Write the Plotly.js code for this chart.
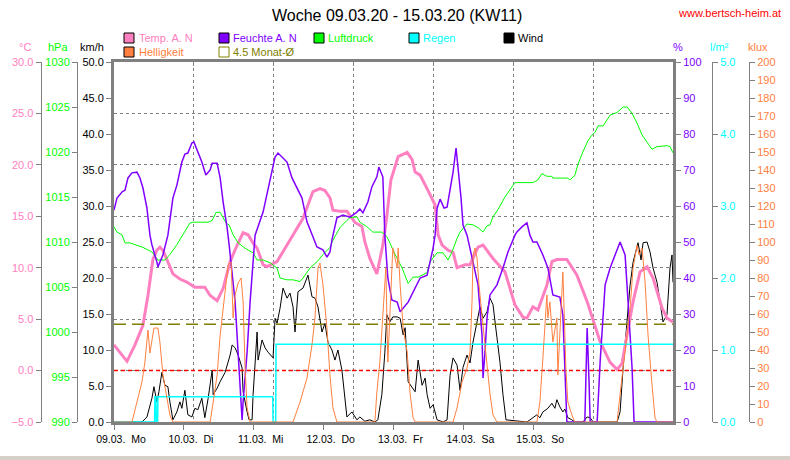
<!DOCTYPE html>
<html><head><meta charset="utf-8">
<script src="https://cdn.plot.ly/plotly-3.0.1.min.js"></script>
<style>html,body{margin:0;padding:0;background:#fff}#chart{width:790px;height:460px}</style>
</head><body><div id="chart"></div>
<script>
// ---- data (hours since 09.03.20 00:00) ----
const dayLabels = ['09.03.\u00a0 Mo','10.03.\u00a0 Di','11.03.\u00a0 Mi','12.03.\u00a0 Do','13.03.\u00a0 Fr','14.03.\u00a0 Sa','15.03.\u00a0 So'];
const dayTicks = [0,1,2,3,4,5,6];

const tempH = [0,1.8,3.9,6.3,8.7,10.2,11.7,12.9,13.8,14.7,16.2,17.7,19.8,21.9,24.3,27.3,28.9,31.0,32.8,34.9,37.0,38.8,40.3,41.8,43.0,44.8,46.0,49.0,52.0,53.8,56.8,59.8,61.9,63.4,64.9,65.8,67.9,70.0,72.4,74.5,75.4,76.9,79.0,80.8,82.0,83.2,85.4,88.1,89.6,90.5,92.0,95.0,96.5,97.4,98.6,100.4,101.9,103.1,105.5,107.0,109.4,110.9,113.9,117.5,120.5,122.9,124.1,125.9,127.4,130.1,131.6,133.1,136.1,139.1,142.2,146.1,149.1,151.2,152.7,154.2,156.0,158.1,160.2,162.0,164.7,166.2,168.0];
const tempC = [2.5,1.8,0.9,2.5,4.4,7.3,10.8,11.7,12.0,11.7,10.5,9.4,8.9,8.6,8.1,8.1,7.3,6.8,8.0,10.6,12.2,13.4,13.2,12.4,11.9,10.3,10.1,10.6,12.2,13.2,14.8,17.4,17.7,17.5,16.8,15.6,15.5,15.5,14.4,14.0,12.5,10.9,9.4,12.2,15.0,18.5,20.8,21.2,20.5,19.3,19.0,17.1,16.1,13.2,12.2,11.7,11.5,10.0,10.3,10.3,12.0,12.2,10.9,9.6,6.4,5.2,5.1,6.2,5.9,8.3,10.6,10.8,10.8,9.3,6.7,2.8,0.8,0.1,0.7,3.5,6.7,9.6,10.1,9.0,6.1,5.1,4.7];

const feuchteH = [0,0.9,2.4,3.3,4.2,5.4,6.9,7.8,8.7,9.9,10.8,11.4,12.9,13.2,14.7,16.2,17.7,18.9,20.4,21.3,22.2,23.4,24.0,25.2,26.4,27.6,28.9,29.5,31.0,31.9,32.8,34.0,34.6,36.4,37.9,38.5,38.8,40.0,40.9,41.8,42.4,44.8,46.9,48.4,49.3,50.8,52.0,53.5,56.5,58.0,59.5,61.0,62.8,64.0,64.9,65.5,67.0,68.8,70.9,73.0,73.9,74.8,76.3,77.5,79.0,79.6,80.8,81.1,81.4,82.3,83.5,85.1,86.0,88.4,92.0,94.1,95.9,96.5,97.1,98.0,99.2,100.1,101.0,101.9,102.8,103.4,104.3,104.9,106.1,107.9,109.4,110.6,110.9,111.5,112.1,113.0,115.1,116.9,118.4,120.5,121.1,122.6,124.1,125.0,125.9,127.1,128.9,130.4,131.9,134.0,134.9,135.5,136.1,141.5,142.2,142.8,143.1,145.2,146.1,147.6,149.1,152.1,153.6,154.5,155.7,156.3,168.0];
const feuchteP = [58.9,62.2,63.9,64.4,67.8,69.2,69.4,67.8,65.0,59.4,51.9,49.2,44.4,43.1,46.4,51.9,62.2,65.8,72.2,74.4,74.7,77.5,77.8,75.0,72.2,68.6,70.0,71.9,71.9,67.8,61.1,53.9,49.2,33.3,10.3,0.6,5.6,19.4,33.3,46.4,51.9,58.3,66.7,73.6,74.7,73.3,72.2,67.8,62.2,55.6,51.9,48.6,47.8,45.8,47.2,50.6,56.7,57.5,56.9,58.3,59.2,58.1,61.1,65.3,68.1,70.8,68.1,62.2,51.9,40.0,33.9,33.3,30.6,33.3,40.0,40.8,48.3,51.9,59.4,61.9,59.4,59.7,65.0,69.4,76.1,70.6,62.2,54.7,51.9,44.4,38.1,24.2,12.2,19.4,28.9,35.3,38.1,42.8,47.2,51.9,52.8,54.2,55.3,51.9,50.0,50.0,46.4,42.8,35.3,34.7,29.7,15.0,0,0,26.1,10.3,0,0,16.7,38.1,42.8,50.0,46.4,33.3,15.0,0,0];

const druckH = [0,0.9,2.4,3.3,4.8,8.7,11.4,13.2,15.3,16.8,18.9,20.4,22.8,23.7,28.3,29.5,30.7,31.9,32.8,33.7,34.6,35.8,37.3,39.4,41.8,43.0,44.8,46.9,49.0,49.9,52.0,53.8,55.9,56.8,58.9,61.0,62.8,64.9,65.8,67.9,70.0,70.9,73.0,73.9,76.0,77.8,80.5,82.0,82.9,84.5,86.6,88.4,89.9,91.4,94.1,95.0,97.1,98.9,100.4,101.6,103.1,104.0,106.1,107.9,109.4,110.9,112.1,113.0,113.9,115.4,117.5,119.6,120.5,125.9,127.4,128.6,130.1,131.6,131.9,136.4,137.0,138.5,139.4,140.9,142.5,143.7,144.6,145.5,147.0,149.1,151.2,153.0,154.2,155.7,157.2,158.7,160.2,161.7,163.2,166.2,167.1,168.0];
const druckHpa = [1011.7,1011.1,1010.8,1009.9,1009.9,1009.4,1008.9,1008.0,1008.0,1008.6,1009.7,1010.6,1012.1,1012.2,1012.2,1012.4,1013.3,1013.3,1012.7,1012.1,1011.9,1010.8,1009.9,1009.3,1008.8,1008.0,1008.0,1007.7,1007.1,1006.0,1005.8,1005.8,1005.6,1006.0,1007.1,1007.8,1008.6,1009.4,1010.2,1011.6,1012.4,1012.7,1012.8,1012.2,1011.7,1011.1,1011.1,1010.6,1009.9,1008.6,1007.1,1005.4,1006.1,1006.1,1006.6,1007.8,1008.8,1008.8,1008.0,1008.9,1010.4,1011.1,1012.0,1011.9,1011.6,1011.1,1011.8,1011.9,1012.8,1013.6,1015.0,1016.1,1016.6,1016.6,1016.9,1017.6,1017.3,1017.3,1017.1,1017.1,1016.9,1017.4,1018.6,1020.0,1021.3,1021.9,1022.2,1022.9,1022.9,1024.1,1024.4,1025.0,1025.0,1024.3,1023.2,1021.9,1021.1,1020.3,1020.6,1020.7,1020.6,1019.9];

const windH = [0,8.4,9.9,11.4,12.0,12.9,13.5,14.4,15.3,16.2,16.8,17.7,18.9,19.8,20.4,21.3,22.2,23.4,24.3,25.2,26.4,27.3,28.3,29.5,29.8,31.0,31.9,33.4,34.9,35.5,36.4,37.3,38.5,38.8,40.0,40.6,41.5,41.8,43.0,43.3,44.5,45.4,46.3,47.8,48.4,49.0,49.9,50.8,52.0,52.9,53.8,54.4,55.3,56.8,58.3,59.5,60.4,61.3,62.5,63.4,64.3,65.5,66.4,67.3,68.5,69.4,70.0,71.5,73.0,73.9,75.4,76.9,78.4,79.3,80.5,81.4,82.0,82.9,83.8,85.1,86.0,86.9,87.5,88.4,89.6,90.5,91.4,92.6,93.5,94.1,95.0,95.9,97.1,98.9,100.1,101.0,101.9,103.1,104.0,104.9,106.1,107.0,107.9,109.1,110.0,110.9,112.1,113.0,113.9,115.1,116.0,116.9,117.8,124.1,125.0,127.1,128.0,128.9,130.4,131.6,132.5,133.1,134.0,134.9,135.5,136.4,137.6,138.5,140.9,142.2,143.1,144.0,151.2,152.1,153.0,154.2,155.1,156.0,157.5,158.4,159.0,160.2,161.1,162.0,163.2,164.1,165.0,166.2,167.1,167.7,168.0];
const windKmh = [0,0,0.7,3.3,4.9,2.8,4.2,6.9,5.1,4.9,2.8,0.3,1.4,2.8,1.9,4.4,1.0,0.7,1.9,1.7,3.3,0.6,3.3,7.2,3.8,4.7,5.6,6.9,9.3,10.7,10.3,9.3,7.5,4.2,1.4,0.3,0.3,3.8,12.5,8.6,11.4,10.3,9.7,8.9,14.4,13.7,15.8,18.6,17.2,17.9,16.0,12.5,18.1,18.6,20.4,17.4,17.2,16.0,12.5,13.7,11.1,10.0,8.6,10.0,7.2,2.8,0.7,1.4,0.3,0.7,0.1,0.3,0,0.3,3.8,9.7,14.9,13.9,14.6,14.6,14.4,12.1,13.1,5.6,4.7,4.2,8.6,5.1,6.1,3.8,1.9,2.4,0.3,0,0.3,6.5,8.9,7.9,4.4,7.6,9.3,8.2,11.1,13.9,16.0,14.4,15.3,17.2,16.3,11.7,8.3,3.8,0.3,0,0.3,1.0,0.6,1.4,1.9,2.6,1.9,3.1,2.1,1.4,1.8,0.6,0.3,0,0,0.7,0.6,0,0,1.4,7.5,14.4,19.0,22.2,24.9,22.5,24.9,25.0,23.6,21.4,19.4,16.7,13.9,14.9,21.4,23.2,19.4];

const hellH = [0,5.4,6.9,8.4,9.3,10.2,10.8,11.4,12.0,13.2,13.8,14.7,15.9,16.8,17.7,28.9,29.8,31.0,31.9,33.4,34.3,35.2,35.8,36.4,37.3,38.2,38.8,39.4,40.0,40.9,53.8,55.9,58.0,59.5,60.4,61.3,61.9,62.8,64.0,64.9,65.8,67.0,78.4,79.0,79.9,80.8,81.7,82.3,82.9,83.8,85.1,85.4,86.0,86.9,88.1,89.0,89.9,90.5,101.9,103.1,104.6,106.1,107.0,107.6,107.9,108.5,109.1,109.7,110.6,111.2,112.1,113.0,113.9,115.1,127.1,128.0,128.9,129.5,130.1,130.4,131.0,131.9,133.1,133.4,134.0,134.9,135.2,135.8,136.4,137.6,138.5,151.2,152.1,153.0,154.2,155.1,156.0,157.2,157.8,158.7,159.6,160.5,161.7,162.6,163.2,168.0];
const hellKlux = [0,0,11.1,22.2,33.3,51.1,38.3,44.4,52.2,52.2,44.4,26.1,13.3,3.9,0,0,11.1,26.1,48.3,70.6,87.2,88.9,57.8,70.6,77.2,80.0,66.7,30.0,7.8,0,0,11.1,24.4,42.8,57.8,85.6,88.3,76.1,52.2,26.1,7.8,0,0,16.7,33.3,59.4,85.6,33.3,61.1,96.7,85.6,96.7,76.1,52.2,38.9,15.6,2.2,0,0,7.8,22.2,30.0,38.9,66.7,92.8,96.7,91.1,76.1,59.4,48.3,33.3,15.6,3.9,0,0,11.1,35.6,55.6,70.6,57.8,66.7,44.4,57.8,26.1,48.3,83.3,66.7,30.0,11.1,3.9,0,0,15.6,30.0,48.3,63.3,85.6,98.3,92.8,96.7,77.8,48.3,20.6,2.2,0,0];

const regenH  = [0,12.2,12.3,12.6,12.7,13.1,13.2,47.7,47.8,48.6,48.7,168.0];
const regenMm = [0,0,0.35,0.35,0,0,0.35,0.35,0,0,1.08,1.08];

const monatMittelC = 4.5;   // 4.5 Monat-Ø (°C)
const frostC = 0;            // 0 °C line
const rangeH = [0,168];

// ---- colours ----
const cTemp='#ff80c0', cFeu='#8000ff', cDruck='#00ff00', cRegen='#00ffff', cWind='#000000', cHell='#ff8040', cMon='#808000', cGrid='#808080';

const PX = X => X/790;
const PY = Y => (422-Y)/360;

const traces = [
  {x:hellH, y:hellKlux, yaxis:'y6', type:'scatter', mode:'lines', line:{color:cHell,width:1}},
  {x:regenH, y:regenMm, yaxis:'y5', type:'scatter', mode:'lines', line:{color:cRegen,width:1.5}},
  {x:windH, y:windKmh, yaxis:'y', type:'scatter', mode:'lines', line:{color:cWind,width:1}},
  {x:druckH, y:druckHpa, yaxis:'y3', type:'scatter', mode:'lines', line:{color:cDruck,width:1}},
  {x:feuchteH, y:feuchteP, yaxis:'y4', type:'scatter', mode:'lines', line:{color:cFeu,width:1.5}},
  {x:tempH, y:tempC, yaxis:'y2', type:'scatter', mode:'lines', line:{color:cTemp,width:3}},
  {x:rangeH, y:[monatMittelC,monatMittelC], yaxis:'y2', type:'scatter', mode:'lines', line:{color:cMon,width:1.5,dash:'12px,6px'}},
  {x:rangeH, y:[frostC,frostC], yaxis:'y2', type:'scatter', mode:'lines', line:{color:'#ff0000',width:1.5,dash:'4px,3px'}},
  {x:[], y:[], xaxis:'x2', yaxis:'y', type:'scatter', mode:'lines', hoverinfo:'skip'}
];
traces.forEach(t=>{t.showlegend=false; t.hoverinfo='skip'; if(!t.xaxis) t.xaxis='x';});

const font = 'Liberation Sans, Arial, sans-serif';
const tf = c => ({family:font, size:11, color:c});
const dom = [PX(114), PX(673)];

const yBase = {showline:true, linecolor:cGrid, linewidth:1, ticks:'outside', ticklen:5, tickcolor:cGrid, tickwidth:1, showgrid:false, zeroline:false, fixedrange:true};

const layout = {
  width:790, height:460,
  margin:{l:0, r:0, t:62, b:38, pad:0},
  paper_bgcolor:'#ffffff', plot_bgcolor:'#ffffff',
  showlegend:false,
  font:{family:font, size:11, color:'#000'},
  xaxis:{domain:dom, range:rangeH, side:'top', anchor:'y', showline:true, linecolor:cGrid, linewidth:3, ticks:'inside', ticklen:4, tickcolor:cGrid, tick0:0, dtick:24, showticklabels:false, showgrid:true, gridcolor:cGrid, griddash:'3px,3px', gridwidth:1, zeroline:false, fixedrange:true},
  xaxis2:{overlaying:'x', range:[0,8], side:'bottom', anchor:'y', showline:true, linecolor:cGrid, linewidth:3, ticks:'outside', ticklen:5, tickcolor:cGrid, tickvals:dayTicks, ticktext:dayLabels, showgrid:false, zeroline:false, tickfont:{family:font,size:10.5,color:'#000'}, ticklabelshift:7, fixedrange:true},
  yaxis:Object.assign({}, yBase, {domain:[0,1], range:[0,50], dtick:5, tick0:0, tickformat:'.1f', side:'left', anchor:'x', linewidth:3, tickfont:tf('#000')}),
  yaxis2:Object.assign({}, yBase, {overlaying:'y', anchor:'free', position:PX(40.5), side:'left', range:[-5,30], tick0:-5, dtick:5, tickformat:'.1f', tickfont:tf(cTemp), showgrid:true, gridcolor:cGrid, griddash:'3px,3px', gridwidth:1}),
  yaxis3:Object.assign({}, yBase, {overlaying:'y', anchor:'free', position:PX(77), side:'left', range:[990,1030], tick0:990, dtick:5, tickformat:'d', tickfont:tf(cDruck)}),
  yaxis4:Object.assign({}, yBase, {overlaying:'y', anchor:'x', side:'right', range:[0,100], tick0:0, dtick:10, tickformat:'d', linewidth:3, tickfont:tf(cFeu)}),
  yaxis5:Object.assign({}, yBase, {overlaying:'y', anchor:'free', position:PX(712), side:'right', range:[0,5], tick0:0, dtick:1, tickformat:'.1f', tickfont:tf(cRegen)}),
  yaxis6:Object.assign({}, yBase, {overlaying:'y', anchor:'free', position:PX(749), side:'right', range:[0,200], tick0:0, dtick:10, tickformat:'d', tickfont:tf(cHell)}),
  annotations:[], shapes:[]
};

function txt(text, X, Y, color, size, anchor){
  layout.annotations.push({text:text, xref:'paper', yref:'paper', x:PX(X), y:PY(Y), xanchor:anchor||'left', yanchor:'middle', showarrow:false, font:{family:font, size:size||11, color:color}, borderpad:0});
}
function box(X, Y, fill, border){
  layout.shapes.push({type:'rect', xref:'paper', yref:'paper', x0:PX(X), x1:PX(X+10), y0:PY(Y+10), y1:PY(Y), fillcolor:fill, line:{color:border||'#000', width:1}});
}

txt('Woche 09.03.20 - 15.03.20 (KW11)', 397, 15, '#000', 16, 'center');
txt('www.bertsch-heim.at', 782, 13, '#ff0000', 11, 'right');

// legend
box(124,33,cTemp); txt('Temp. A. N', 138, 38, cTemp);
box(219,33,cFeu);  txt('Feuchte A. N', 232, 38, cFeu);
box(314,33,cDruck); txt('Luftdruck', 327, 38, cDruck);
box(409,33,cRegen); txt('Regen', 422, 38, cRegen);
box(504,33,cWind);  txt('Wind', 517, 38, cWind);
box(124,47,cHell);  txt('Helligkeit', 138, 52, cHell);
box(219,47,'rgba(0,0,0,0)',cMon); txt('4.5 Monat-Ø', 232, 52, cMon);

// axis units
txt('°C', 25, 47, cTemp, 11, 'center');
txt('hPa', 58, 47, cDruck, 11, 'center');
txt('km/h', 92, 47, '#000', 11, 'center');
txt('%', 678, 47, cFeu, 11, 'center');
txt('l/m²', 719, 47, cRegen, 11, 'center');
txt('klux', 758, 47, cHell, 11, 'center');

// bottom frame strip
layout.shapes.push({type:'rect', xref:'paper', yref:'paper', x0:0, x1:1, y0:PY(460), y1:PY(456), fillcolor:'#d4d0c8', line:{width:0}});

Plotly.newPlot('chart', traces, layout, {staticPlot:true, displayModeBar:false});
</script>
</body></html>
